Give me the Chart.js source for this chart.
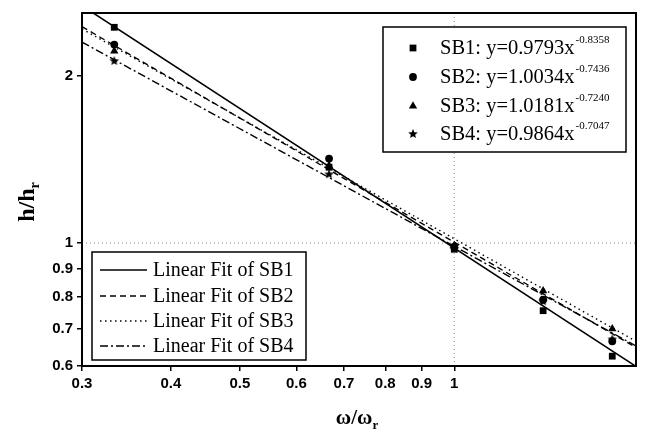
<!DOCTYPE html>
<html>
<head>
<meta charset="utf-8">
<script src="https://cdn.jsdelivr.net/npm/chart.js@4.4.1/dist/chart.umd.min.js"></script>
<style>
html, body { margin: 0; padding: 0; background: #fff; }
</style>
</head>
<body>
<canvas id="c" width="648" height="439"></canvas>
<script>
// measured points (omega/omega_r = 1/3 .. 5/3)
const xValues = [0.333, 0.667, 1.0, 1.333, 1.667];
const sb1 = [2.45, 1.37, 0.975, 0.755, 0.625];
const sb2 = [2.28, 1.42, 0.985, 0.79, 0.665];
const sb3 = [2.22, 1.38, 0.99, 0.82, 0.70];
const sb4 = [2.13, 1.33, 0.975, 0.785, 0.67];

// fitted lines, end points read at x = 0.3 and x = 1.8
const fitX = [0.3, 1.8];
const fit1 = [2.68, 0.599];
const fit2 = [2.456, 0.648];
const fit3 = [2.434, 0.665];
const fit4 = [2.304, 0.652];

const xTicks = [0.3, 0.4, 0.5, 0.6, 0.7, 0.8, 0.9, 1];
const yTicks = [0.6, 0.7, 0.8, 0.9, 1, 2];

const seriesNames = ['SB1', 'SB2', 'SB3', 'SB4'];
const fitCoef = ['0.9793', '1.0034', '1.0181', '0.9864'];
const fitExp = ['-0.8358', '-0.7436', '-0.7240', '-0.7047'];

function starImage(r) {
    const cv = document.createElement('canvas');
    const s = Math.ceil(r * 2 + 2);
    cv.width = s; cv.height = s;
    const g = cv.getContext('2d');
    g.fillStyle = '#000';
    g.beginPath();
    for (let i = 0; i < 10; i++) {
        const rr = i % 2 === 0 ? r : r * 0.45;
        const a = -Math.PI / 2 + i * Math.PI / 5;
        const px = s / 2 + rr * Math.cos(a), py = s / 2 + rr * Math.sin(a);
        if (i === 0) g.moveTo(px, py); else g.lineTo(px, py);
    }
    g.closePath();
    g.fill();
    return cv;
}
const star = starImage(5);

const markers = [
    { pointStyle: 'rect', radius: 4.8 },
    { pointStyle: 'circle', radius: 3.9 },
    { pointStyle: 'triangle', radius: 4.8 },
    { pointStyle: star, radius: 5 }
];
const dashes = [[], [6, 4], [1.5, 3.5], [8, 3, 2, 3]];

function pts(xs, ys) {
    return xs.map((x, i) => ({ x: x, y: ys[i] }));
}

const fits = [fit1, fit2, fit3, fit4];
const points = [sb1, sb2, sb3, sb4];
const datasets = [];
points.forEach((vals, i) => {
    datasets.push({
        label: seriesNames[i],
        data: pts(xValues, vals),
        showLine: false,
        pointStyle: markers[i].pointStyle,
        pointRadius: markers[i].radius,
        backgroundColor: '#000',
        borderColor: '#000',
        borderWidth: 0
    });
});
fits.forEach((vals, i) => {
    datasets.push({
        label: 'Linear Fit of ' + seriesNames[i],
        data: pts(fitX, vals),
        showLine: true,
        pointRadius: 0,
        borderColor: '#000',
        borderWidth: i === 0 ? 1.6 : 1.4,
        borderDash: dashes[i]
    });
});

function drawSub(ctx, main, sub, x, y, size) {
    ctx.font = 'bold ' + size + 'px "Liberation Serif"';
    const w1 = ctx.measureText(main).width;
    ctx.font = 'bold ' + Math.round(size * 0.6) + 'px "Liberation Serif"';
    const w2 = ctx.measureText(sub).width;
    const x0 = x - (w1 + w2) / 2;
    ctx.font = 'bold ' + size + 'px "Liberation Serif"';
    ctx.textAlign = 'left';
    ctx.textBaseline = 'alphabetic';
    ctx.fillText(main, x0, y);
    ctx.font = 'bold ' + Math.round(size * 0.6) + 'px "Liberation Serif"';
    ctx.fillText(sub, x0 + w1, y + 5);
}

const decor = {
    id: 'decor',
    beforeDatasetsDraw(chart) {
        const { ctx, chartArea: a, scales: { x, y } } = chart;
        ctx.save();
        ctx.strokeStyle = '#888';
        ctx.lineWidth = 1;
        ctx.setLineDash([1, 3]);
        const gx = x.getPixelForValue(1), gy = y.getPixelForValue(1);
        ctx.beginPath();
        ctx.moveTo(gx, a.top); ctx.lineTo(gx, a.bottom);
        ctx.moveTo(a.left, gy); ctx.lineTo(a.right, gy);
        ctx.stroke();
        ctx.restore();
    },
    afterDraw(chart) {
        const { ctx, chartArea: a } = chart;
        ctx.save();
        // frame
        ctx.strokeStyle = '#000';
        ctx.lineWidth = 2;
        ctx.strokeRect(a.left, a.top, a.right - a.left, a.bottom - a.top);

        // legend of points
        ctx.fillStyle = '#fff';
        ctx.fillRect(383, 27, 243, 125);
        ctx.lineWidth = 1.5;
        ctx.strokeRect(383, 27, 243, 125);
        const rows1 = [48, 77, 106, 134];
        rows1.forEach((ry, i) => {
            ctx.fillStyle = '#000';
            ctx.strokeStyle = '#000';
            Chart.helpers.drawPoint(ctx, { pointStyle: markers[i].pointStyle, radius: markers[i].radius, rotation: 0, borderWidth: 0 }, 413, ry);
            ctx.fillStyle = '#000';
            ctx.font = '20.5px "Liberation Serif"';
            ctx.textAlign = 'left';
            ctx.textBaseline = 'middle';
            const txt = seriesNames[i] + ': y=' + fitCoef[i] + 'x';
            ctx.fillText(txt, 440, ry + 1);
            const w = ctx.measureText(txt).width;
            ctx.font = '11px "Liberation Serif"';
            ctx.fillText(fitExp[i], 440 + w + 1, ry - 8);
        });

        // legend of fit lines
        ctx.fillStyle = '#fff';
        ctx.fillRect(92, 252, 214, 108);
        ctx.strokeStyle = '#000';
        ctx.lineWidth = 1.5;
        ctx.strokeRect(92, 252, 214, 108);
        const rows2 = [270, 296, 321, 346];
        rows2.forEach((ry, i) => {
            ctx.strokeStyle = '#000';
            ctx.lineWidth = i === 0 ? 1.6 : 1.4;
            ctx.setLineDash(dashes[i]);
            ctx.beginPath();
            ctx.moveTo(100, ry); ctx.lineTo(147, ry);
            ctx.stroke();
            ctx.setLineDash([]);
            ctx.fillStyle = '#000';
            ctx.font = '20px "Liberation Serif"';
            ctx.textAlign = 'left';
            ctx.textBaseline = 'middle';
            ctx.fillText('Linear Fit of ' + seriesNames[i], 153, ry + 1);
        });

        // axis titles
        ctx.fillStyle = '#000';
        drawSub(ctx, '\u03c9/\u03c9', 'r', 357, 424, 21);
        ctx.translate(34, 202);
        ctx.rotate(-Math.PI / 2);
        drawSub(ctx, 'h/h', 'r', 0, 0, 24);
        ctx.restore();
    }
};

const tickFont = { family: '"Liberation Sans"', size: 15, weight: 'bold' };

new Chart(document.getElementById('c'), {
    type: 'scatter',
    data: { datasets: datasets },
    options: {
        responsive: false,
        animation: false,
        devicePixelRatio: 1,
        layout: { padding: { left: 0, top: 11, right: 12, bottom: 0 } },
        plugins: { legend: { display: false }, tooltip: { enabled: false } },
        scales: {
            x: {
                type: 'logarithmic',
                min: 0.3,
                max: 1.8,
                afterBuildTicks: s => { s.ticks = xTicks.map(v => ({ value: v })); },
                afterFit: s => { s.height = 73; },
                grid: { drawOnChartArea: false, drawTicks: true, tickLength: 5, color: '#000', lineWidth: 1.5 },
                border: { display: true, color: '#000', width: 2 },
                ticks: { color: '#000', font: tickFont, padding: 4, autoSkip: false, maxRotation: 0, callback: v => String(v) }
            },
            y: {
                type: 'logarithmic',
                min: 0.6,
                max: 2.6,
                afterBuildTicks: s => { s.ticks = yTicks.map(v => ({ value: v })); },
                afterFit: s => { s.width = 82; },
                grid: { drawOnChartArea: false, drawTicks: true, tickLength: 5, color: '#000', lineWidth: 1.5 },
                border: { display: true, color: '#000', width: 2 },
                ticks: { color: '#000', font: tickFont, padding: 4, autoSkip: false, callback: v => String(v) }
            }
        }
    },
    plugins: [decor]
});
</script>
</body>
</html>
